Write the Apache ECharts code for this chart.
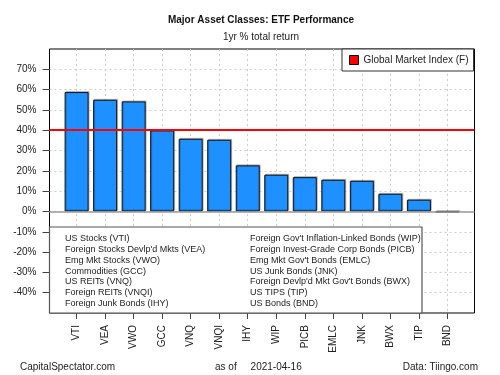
<!DOCTYPE html>
<html>
<head>
<meta charset="utf-8">
<script src="https://cdn.jsdelivr.net/npm/echarts@6/dist/echarts.min.js"></script>
<style>
  html, body { margin: 0; padding: 0; background: #fff; }
  #container-etf { width: 500px; height: 375px; }
</style>
</head>
<body>
<div id="container-etf"></div>
<script>
// 1yr % total return
var tickers = ['VTI', 'VEA', 'VWO', 'GCC', 'VNQ', 'VNQI', 'IHY', 'WIP', 'PICB', 'EMLC', 'JNK', 'BWX', 'TIP', 'BND'];
var returns = [58.8, 55.0, 54.2, 39.9, 35.8, 35.3, 22.7, 18.1, 16.9, 15.6, 15.1, 8.7, 5.8, -0.4];
var gmiReturn = 40.0;
var gmiName = 'Global Market Index (F)';
var yTicks = [-40, -30, -20, -10, 0, 10, 20, 30, 40, 50, 60, 70];
var leftNames = ['US Stocks (VTI)', "Foreign Stocks Devlp'd Mkts (VEA)", 'Emg Mkt Stocks (VWO)',
  'Commodities (GCC)', 'US REITs (VNQ)', 'Foreign REITs (VNQI)', 'Foreign Junk Bonds (IHY)'];
var rightNames = ["Foreign Gov't Inflation-Linked Bonds (WIP)", 'Foreign Invest-Grade Corp Bonds (PICB)',
  "Emg Mkt Gov't Bonds (EMLC)", 'US Junk Bonds (JNK)', "Foreign Devlp'd Mkt Gov't Bonds (BWX)",
  'US TIPS (TIP)', 'US Bonds (BND)'];

var font = 'Liberation Sans, Arial, sans-serif';

function drawChart(element) {
  var dom = document.getElementById('container-' + element);
  var myChart = echarts.init(dom);
  var option = null;

  var positions = tickers.map(function (t, i) { return i + 1; });
  var barData = returns.map(function (v, i) { return [positions[i], v]; });

  // titles, footer and the description box under the zero line
  var graphics = [
    {type: 'text', x: 261, y: 20, style: {text: 'Major Asset Classes: ETF Performance', font: 'bold 10px ' + font, fill: '#111', textAlign: 'center', textVerticalAlign: 'middle'}},
    {type: 'text', x: 261, y: 37, style: {text: '1yr % total return', font: '10px ' + font, fill: '#222', textAlign: 'center', textVerticalAlign: 'middle'}},
    {type: 'text', x: 20, y: 367, style: {text: 'CapitalSpectator.com', font: '10px ' + font, fill: '#222', textVerticalAlign: 'middle'}},
    {type: 'text', x: 215, y: 367, style: {text: 'as of     2021-04-16', font: '10px ' + font, fill: '#222', textVerticalAlign: 'middle'}},
    {type: 'text', x: 478, y: 367, style: {text: 'Data: Tiingo.com', font: '10px ' + font, fill: '#222', textAlign: 'right', textVerticalAlign: 'middle'}},
    {type: 'rect', shape: {x: 49.5, y: 227, width: 372.5, height: 86}, style: {fill: '#fff', stroke: '#555', lineWidth: 1.2}, z: 10}
  ];
  leftNames.forEach(function (n, i) {
    graphics.push({type: 'text', x: 65, y: 239 + i * 10.7, z: 11, style: {text: n, font: '9px ' + font, fill: '#222', textVerticalAlign: 'middle'}});
  });
  rightNames.forEach(function (n, i) {
    graphics.push({type: 'text', x: 250, y: 239 + i * 10.7, z: 11, style: {text: n, font: '9px ' + font, fill: '#222', textVerticalAlign: 'middle'}});
  });

  option = {
    animation: false,
    backgroundColor: '#fff',
    textStyle: {fontFamily: font},
    grid: {
      left: 49.5, top: 49, width: 425, height: 264,
      show: true, borderColor: '#000', borderWidth: 1, backgroundColor: 'transparent'
    },
    legend: {
      left: 342, top: 49,
      data: [{name: gmiName, icon: 'rect'}],
      itemWidth: 9, itemHeight: 9,
      padding: [6, 5, 6, 7],
      backgroundColor: '#fff',
      borderColor: '#333', borderWidth: 1,
      itemStyle: {borderColor: '#000', borderWidth: 1},
      textStyle: {fontSize: 10, color: '#222', fontFamily: font},
      z: 20
    },
    xAxis: {
      type: 'value', min: 0.05, max: 14.95,
      axisLine: {show: false, onZero: false},
      axisTick: {customValues: positions, length: 6, lineStyle: {color: '#444'}},
      axisLabel: {
        customValues: positions, rotate: 90, margin: 12, fontSize: 10, color: '#222',
        formatter: function (v) { return tickers[Math.round(v) - 1]; }
      },
      splitLine: {show: true, lineStyle: {color: '#ccc', type: [2, 3]}}
    },
    yAxis: {
      type: 'value', min: -50, max: 80, interval: 10,
      axisLine: {show: false, onZero: false},
      axisTick: {customValues: yTicks, length: 7, lineStyle: {color: '#444'}},
      axisLabel: {
        customValues: yTicks, margin: 13, fontSize: 10, color: '#222',
        formatter: function (v) { return v + '%'; }
      },
      splitLine: {show: true, lineStyle: {color: '#ccc', type: [2, 3]}}
    },
    graphic: graphics,
    series: [
      {
        name: 'ETF',
        type: 'bar',
        data: barData,
        barWidth: 24,
        itemStyle: {
          color: '#1E90FF', borderColor: '#111', borderWidth: 1,
          shadowColor: 'rgba(0,0,0,0.22)', shadowOffsetX: 1, shadowOffsetY: -1, shadowBlur: 0
        },
        markLine: {
          silent: true, symbol: 'none', label: {show: false},
          lineStyle: {color: '#999', type: 'solid', width: 1.5},
          data: [{yAxis: 0}]
        }
      },
      {
        name: gmiName,
        type: 'line',
        data: [],
        itemStyle: {color: '#ff0000'},
        lineStyle: {color: '#ff0000'},
        markLine: {
          silent: true, symbol: 'none', label: {show: false},
          lineStyle: {color: '#ff0000', type: 'solid', width: 2},
          data: [{yAxis: gmiReturn}]
        }
      }
    ]
  };
  if (option && typeof option === "object") {
    myChart.setOption(option, true);
  }
}

drawChart('etf');
</script>
</body>
</html>
